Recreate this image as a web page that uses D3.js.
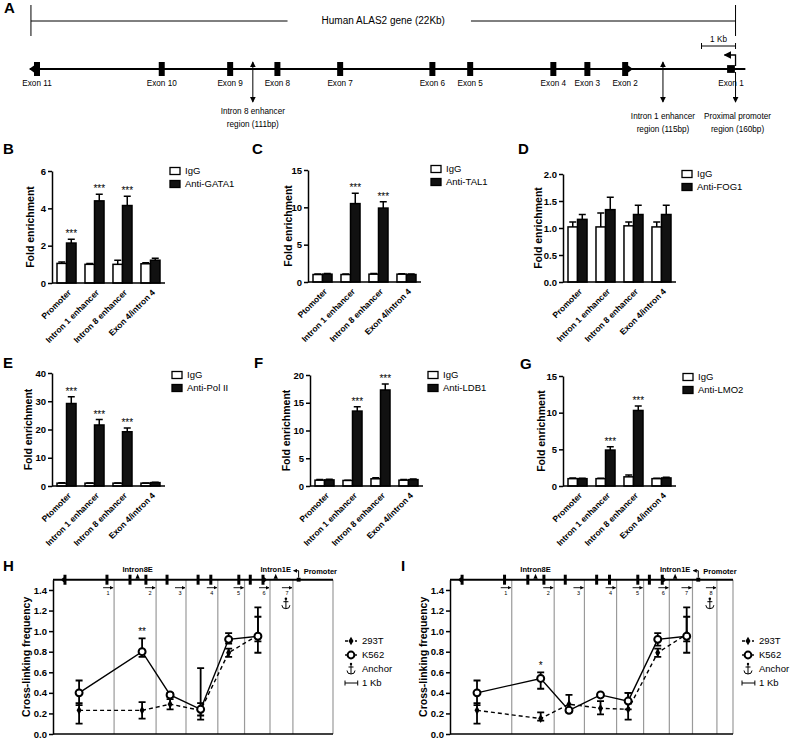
<!DOCTYPE html>
<html>
<head>
<meta charset="utf-8">
<script src="https://cdn.jsdelivr.net/npm/d3@7"></script>
<style>
  body { margin: 0; background: #fff; }
  svg text { font-family: "Liberation Sans", Arial, sans-serif; fill: #000; }
</style>
</head>
<body>
<div id="figure"></div>
<script>
// ---- panel A : gene map (positions in kb) ----
const exonNames = ['Exon 11', 'Exon 10', 'Exon 9', 'Exon 8', 'Exon 7', 'Exon 6', 'Exon 5', 'Exon 4', 'Exon 3', 'Exon 2', 'Exon 1'];
const exonKb = [0.94, 4.24, 6.05, 7.3, 8.96, 11.4, 12.4, 14.6, 15.5, 16.5, 19.3];
const geneSpanKb = [0.78, 19.42];
const enhancerKb = [6.65, 17.5];
const enhancerShort = ['Intron8E', 'Intron1E'];
const enhancerLabels = [['Intron 8 enhancer', 'region (111bp)'], ['Intron 1 enhancer', 'region (115bp)']];
const promoterKb = 19.42;
const promoterLabel = ['Proximal promoter', 'region (160bp)'];

// ---- panels B-G : ChIP fold enrichment ----
const sites = ['Promoter', 'Intron 1 enhancer', 'Intron 8 enhancer', 'Exon 4/intron 4'];
const sitesTypo = ['Ptomoter', 'Intron 1 enhancer', 'Intron 8 enhancer', 'Exon 4/intron 4'];

const gata1IgG = [1.05, 1.0, 1.0, 1.03];
const gata1IgGErr = [0.07, 0.05, 0.22, 0.05];
const gata1Ab = [2.14, 4.4, 4.15, 1.22];
const gata1AbErr = [0.2, 0.35, 0.5, 0.1];
const gata1Sig = ['***', '***', '***', ''];

const tal1IgG = [1.0, 1.0, 1.05, 1.05];
const tal1IgGErr = [0.08, 0.06, 0.08, 0.06];
const tal1Ab = [1.05, 10.5, 9.9, 1.0];
const tal1AbErr = [0.08, 1.4, 0.85, 0.06];
const tal1Sig = ['', '***', '***', ''];

const fog1IgG = [1.02, 1.02, 1.04, 1.02];
const fog1IgGErr = [0.09, 0.26, 0.07, 0.09];
const fog1Ab = [1.16, 1.34, 1.25, 1.25];
const fog1AbErr = [0.09, 0.23, 0.17, 0.17];
const fog1Sig = ['', '', '', ''];

const polIgG = [1.0, 1.0, 1.0, 1.0];
const polIgGErr = [0.15, 0.1, 0.1, 0.1];
const polAb = [29.2, 21.6, 19.2, 1.2];
const polAbErr = [2.4, 1.9, 1.3, 0.15];
const polSig = ['***', '***', '***', ''];

const ldb1IgG = [1.05, 1.0, 1.3, 1.05];
const ldb1IgGErr = [0.1, 0.05, 0.2, 0.1];
const ldb1Ab = [1.1, 13.5, 17.3, 1.15];
const ldb1AbErr = [0.1, 0.8, 1.1, 0.1];
const ldb1Sig = ['', '***', '***', ''];

const lmo2IgG = [1.0, 1.0, 1.25, 1.0];
const lmo2IgGErr = [0.1, 0.05, 0.25, 0.05];
const lmo2Ab = [1.0, 4.9, 10.3, 1.1];
const lmo2AbErr = [0.05, 0.45, 0.6, 0.1];
const lmo2Sig = ['', '***', '***', ''];

// ---- panels H, I : 3C cross-linking frequency ----
const primerEndKb = [4.8, 8.1, 10.45, 12.95, 15.05, 17.05, 18.85, 20.75];

const hPos = [2.05, 7.0, 9.2, 11.6, 13.8, 16.1];
const hK562 = [0.40, 0.80, 0.38, 0.24, 0.92, 0.95];
const hK562Up = [0.12, 0.13, 0.02, 0.40, 0.06, 0.28];
const hK562Dn = [0.12, 0.05, 0.02, 0.06, 0.04, 0.16];
const h293T = [0.23, 0.23, 0.29, 0.23, 0.79, 0.96];
const h293TUp = [0.07, 0.08, 0.05, 0.07, 0.04, 0.18];
const h293TDn = [0.13, 0.08, 0.05, 0.09, 0.04, 0.06];

const iPos = [2.1, 7.05, 9.25, 11.7, 13.85, 16.15, 18.4];
const iK562 = [0.40, 0.54, 0.23, 0.38, 0.32, 0.92, 0.95];
const iK562Up = [0.12, 0.06, 0.02, 0.02, 0.08, 0.06, 0.28];
const iK562Dn = [0.12, 0.10, 0.02, 0.02, 0.08, 0.06, 0.16];
const i293T = [0.23, 0.15, 0.29, 0.25, 0.24, 0.79, 0.97];
const i293TUp = [0.07, 0.06, 0.09, 0.07, 0.16, 0.04, 0.17];
const i293TDn = [0.13, 0.02, 0.05, 0.06, 0.10, 0.04, 0.07];

const svg = d3.select('#figure').append('svg')
    .attr('width', 791)
    .attr('height', 739);

const defs = svg.append('defs');
defs.append('marker').attr('id', 'head')
    .attr('viewBox', '0 0 8 8').attr('refX', 7).attr('refY', 4)
    .attr('markerWidth', 6).attr('markerHeight', 6)
    .attr('orient', 'auto-start-reverse')
    .append('path').attr('d', 'M0,0L8,4L0,8z').attr('fill', '#000');
defs.append('marker').attr('id', 'headSmall')
    .attr('viewBox', '0 0 8 8').attr('refX', 7).attr('refY', 4)
    .attr('markerWidth', 4).attr('markerHeight', 4)
    .attr('orient', 'auto')
    .append('path').attr('d', 'M0,0L8,4L0,8z').attr('fill', '#000');

// panel letters
[['A', 4, 13], ['B', 3, 154], ['C', 252, 154], ['D', 518, 154], ['E', 3, 368], ['F', 254, 368],
 ['G', 520, 369], ['H', 3, 571], ['I', 401, 571]].forEach(([t, x, y]) => {
    svg.append('text').attr('x', x).attr('y', y).text(t)
        .style('font-size', '15px').style('font-weight', 'bold');
});

// exon glyph: plain box, or box with a point for the terminal exons
const exonPath = (i, cx, cy, w, h) => {
    if (i === exonKb.length - 1) {
        const s = w * 1.3;
        return `M${cx - s / 2},${cy - s / 2}h${s}v${s}h${-s}z`;
    }
    let d = `M${cx - w / 2},${cy - h / 2}h${w}v${h}h${-w}z`;
    if (i === 0) d += `M${cx - w / 2},${cy - h / 4}L${cx - w / 2 - w * 0.8},${cy}L${cx - w / 2},${cy + h / 4}z`;
    if (i === exonKb.length - 2) d += `M${cx + w / 2},${cy - h / 4}L${cx + w / 2 + w * 0.8},${cy}L${cx + w / 2},${cy + h / 4}z`;
    return d;
};

// ---------------- panel A ----------------
const drawGeneMap = () => {
    const g = svg.append('g').style('font-size', '8.2px');
    const xa = d3.scaleLinear().domain([exonKb[0], exonKb[exonKb.length - 1]]).range([37, 731]);
    const lineY = 69;

    // 22 kb bracket
    const title = g.append('text').attr('x', (xa(geneSpanKb[0]) + xa(geneSpanKb[1])) / 2).attr('y', 24)
        .attr('text-anchor', 'middle').style('font-size', '10px').text('Human ALAS2 gene (22Kb)');
    const tw = title.node().getComputedTextLength();
    const mid = (xa(geneSpanKb[0]) + xa(geneSpanKb[1])) / 2;
    g.append('path')
        .attr('d', `M${xa(geneSpanKb[0])},5V36M${xa(geneSpanKb[0])},21H${mid - tw / 2 - 34}` +
            `M${mid + tw / 2 + 26},21H${xa(geneSpanKb[1])}M${xa(geneSpanKb[1])},5V36`)
        .attr('stroke', '#000').attr('stroke-width', 1).attr('fill', 'none');

    // 1 Kb scale bar
    const sb0 = xa(promoterKb - 0.9), sb1 = xa(promoterKb);
    g.append('path').attr('d', `M${sb0},46H${sb1}M${sb0},43V49M${sb1},43V49`)
        .attr('stroke', '#000').attr('fill', 'none');
    g.append('text').attr('x', (sb0 + sb1) / 2).attr('y', 42).attr('text-anchor', 'middle').text('1 Kb');

    // gene line and exons
    g.append('line').attr('x1', xa(0.75)).attr('x2', xa(19.68)).attr('y1', lineY).attr('y2', lineY)
        .attr('stroke', '#000').attr('stroke-width', 2);
    g.selectAll('.exon').data(exonKb).join('path').attr('class', 'exon')
        .attr('d', (d, i) => exonPath(i, xa(d), lineY, 6, 14)).attr('fill', '#000');
    g.selectAll('.exonLabel').data(exonNames).join('text').attr('class', 'exonLabel')
        .attr('x', (d, i) => xa(exonKb[i])).attr('y', 86).attr('text-anchor', 'middle').text(d => d);

    // enhancer arrows
    enhancerKb.forEach((kb, i) => {
        g.append('line').attr('x1', xa(kb)).attr('x2', xa(kb)).attr('y1', 62).attr('y2', 102)
            .attr('stroke', '#000').attr('marker-start', 'url(#head)').attr('marker-end', 'url(#head)');
        const ly = i === 0 ? 114 : 119;
        enhancerLabels[i].forEach((t, j) => {
            g.append('text').attr('x', xa(kb)).attr('y', ly + j * 13).attr('text-anchor', 'middle').text(t);
        });
    });

    // promoter arrows
    const px = xa(promoterKb);
    g.append('path').attr('d', `M${px},66V55H${px - 11}`).attr('fill', 'none')
        .attr('stroke', '#000').attr('stroke-width', 1.3).attr('marker-end', 'url(#head)');
    g.append('line').attr('x1', px).attr('x2', px).attr('y1', 72).attr('y2', 102)
        .attr('stroke', '#000').attr('marker-end', 'url(#head)');
    promoterLabel.forEach((t, j) => {
        g.append('text').attr('x', px + 2).attr('y', 119 + j * 13).attr('text-anchor', 'middle').text(t);
    });
};

// ---------------- panels B-G ----------------
const drawBars = (p) => {
    const g = svg.append('g');
    const y = d3.scaleLinear().domain([0, p.max]).range([p.bottom, p.top]);
    const x = d3.scaleBand().domain(p.sites).range([p.x0 + 5, p.x0 + 108]).paddingInner(0.32);
    const bw = x.bandwidth() / 2;

    const series = [
        { vals: p.igg, errs: p.iggErr, fill: '#fff', dx: 0 },
        { vals: p.ab, errs: p.abErr, fill: '#111', dx: bw }
    ];
    series.forEach(s => {
        const bar = g.append('g').selectAll('g').data(p.sites).join('g')
            .attr('transform', d => `translate(${x(d) + s.dx},0)`);
        bar.append('rect')
            .attr('x', 0).attr('width', bw)
            .attr('y', (d, i) => y(s.vals[i]))
            .attr('height', (d, i) => p.bottom - y(s.vals[i]))
            .attr('fill', s.fill).attr('stroke', '#000').attr('stroke-width', 1.5);
        bar.append('path')
            .attr('d', (d, i) => `M${bw / 2},${y(s.vals[i])}V${y(s.vals[i] + s.errs[i])}M${bw / 2 - 3.5},${y(s.vals[i] + s.errs[i])}h7`)
            .attr('stroke', '#000').attr('stroke-width', 1.5);
    });

    g.selectAll('.sig').data(p.sig).join('text').attr('class', 'sig')
        .attr('x', (d, i) => x(p.sites[i]) + bw * 1.5)
        .attr('y', (d, i) => y(p.ab[i] + p.abErr[i]) - 2)
        .attr('text-anchor', 'middle').style('font-size', '10px').text(d => d);

    // axes
    g.append('g').attr('transform', `translate(${p.x0},0)`)
        .call(d3.axisLeft(y)
            .tickValues(d3.range(0, p.max + p.step / 2, p.step))
            .tickFormat(d3.format(p.fmt))
            .tickSize(4).tickSizeOuter(0).tickPadding(2))
        .call(a => a.selectAll('path, line').attr('stroke', '#000').attr('stroke-width', 1.5))
        .call(a => a.selectAll('text').style('font-size', '9.5px').style('font-weight', 'bold'));
    g.append('line').attr('x1', p.x0).attr('x2', p.x0 + 113).attr('y1', p.bottom).attr('y2', p.bottom)
        .attr('stroke', '#000').attr('stroke-width', 1.5);

    g.selectAll('.xl').data(p.sites).join('text').attr('class', 'xl')
        .attr('transform', d => `translate(${x(d) + bw + 3},${p.bottom + 8}) rotate(-45)`)
        .attr('text-anchor', 'end').attr('dy', '0.35em')
        .style('font-size', '8.5px').style('font-weight', 'bold').text(d => d);

    g.append('text')
        .attr('transform', `translate(${p.titleX},${(p.top + p.bottom) / 2}) rotate(-90)`)
        .attr('text-anchor', 'middle').attr('dy', '0.35em')
        .style('font-size', '10.5px').style('font-weight', 'bold').text('Fold enrichment');

    // legend
    [['IgG', '#fff'], [p.abName, '#111']].forEach(([name, fill], i) => {
        const ly = p.legY + i * 13;
        g.append('rect').attr('x', p.legX).attr('y', ly - 3.5).attr('width', 10).attr('height', 7)
            .attr('fill', fill).attr('stroke', '#000').attr('stroke-width', 1.3);
        g.append('text').attr('x', p.legX + 15).attr('y', ly).attr('dy', '0.35em')
            .style('font-size', '9.5px').text(name);
    });
};

// ---------------- panels H, I ----------------
const anchorPath = (cx, ty) =>
    `M${cx},${ty + 2}V${ty + 11}M${cx - 2.5},${ty + 4}H${cx + 2.5}` +
    `M${cx - 4},${ty + 7.5}Q${cx - 4},${ty + 11} ${cx},${ty + 11}Q${cx + 4},${ty + 11} ${cx + 4},${ty + 7.5}`;

const drawLoops = (p) => {
    const g = svg.append('g');
    const x = d3.scaleLinear().domain([0, 22]).range([p.x0, p.x1]);
    const y = d3.scaleLinear().domain([0, 1.5]).range([734, 579.7]);
    const topY = y(1.5);

    // restriction fragment boundaries
    const bounds = primerEndKb.slice(0, p.primers).concat([22]);
    g.selectAll('.vb').data(bounds).join('line').attr('class', 'vb')
        .attr('x1', d => x(d)).attr('x2', d => x(d)).attr('y1', topY).attr('y2', y(0))
        .attr('stroke', '#9a9a9a').attr('stroke-width', 1.2);

    // gene track along the top
    g.append('line').attr('x1', p.x0).attr('x2', p.x1).attr('y1', topY).attr('y2', topY)
        .attr('stroke', '#000').attr('stroke-width', 2);
    g.selectAll('.exon').data(exonKb).join('path').attr('class', 'exon')
        .attr('d', (d, i) => exonPath(i, x(d), topY, 3, 10)).attr('fill', '#000');
    enhancerKb.forEach((kb, i) => {
        const ex = x(kb);
        g.append('path').attr('d', `M${ex - 2.2},${topY - 1}L${ex},${topY - 6}L${ex + 2.2},${topY - 1}z`).attr('fill', '#000');
        g.append('text').attr('x', ex).attr('y', topY - 8).attr('text-anchor', 'middle')
            .style('font-size', '7.5px').style('font-weight', 'bold').text(enhancerShort[i]);
    });
    const pxp = x(exonKb[exonKb.length - 1]);
    g.append('path').attr('d', `M${pxp},${topY - 2}V${topY - 9}H${pxp - 5}`).attr('fill', 'none')
        .attr('stroke', '#000').attr('stroke-width', 1).attr('marker-end', 'url(#headSmall)');
    g.append('text').attr('x', pxp + 5).attr('y', topY - 6)
        .style('font-size', '7.5px').style('font-weight', 'bold').text('Promoter');

    // primers
    primerEndKb.slice(0, p.primers).forEach((kb, i) => {
        g.append('line').attr('x1', x(kb) - 11).attr('x2', x(kb) - 1).attr('y1', topY + 8).attr('y2', topY + 8)
            .attr('stroke', '#000').attr('stroke-width', 0.9).attr('marker-end', 'url(#headSmall)');
        g.append('text').attr('x', x(kb) - 6).attr('y', topY + 15).attr('text-anchor', 'middle')
            .style('font-size', '5.5px').text(i + 1);
    });
    g.append('circle').attr('cx', x(p.anchorKb)).attr('cy', topY + 19).attr('r', 1.3).attr('fill', '#000');
    g.append('path').attr('d', anchorPath(x(p.anchorKb), topY + 18)).attr('fill', 'none').attr('stroke', '#000');

    // axes
    g.append('g').attr('transform', `translate(${p.x0},0)`)
        .call(d3.axisLeft(y).tickValues(d3.range(0, 1.41, 0.2)).tickFormat(d3.format('.1f'))
            .tickSize(4).tickSizeOuter(0).tickPadding(2))
        .call(a => a.selectAll('path, line').attr('stroke', '#000').attr('stroke-width', 1.5))
        .call(a => a.selectAll('text').style('font-size', '9.5px').style('font-weight', 'bold'));
    g.append('line').attr('x1', p.x0).attr('x2', p.x1).attr('y1', y(0)).attr('y2', y(0))
        .attr('stroke', '#000').attr('stroke-width', 1.5);
    g.append('text')
        .attr('transform', `translate(${p.x0 - 27},${(y(0) + topY) / 2}) rotate(-90)`)
        .attr('text-anchor', 'middle').attr('dy', '0.35em')
        .style('font-size', '10.5px').style('font-weight', 'bold').text('Cross-linking frequency');

    const series = [
        { vals: p.t293, up: p.t293Up, dn: p.t293Dn, dash: '4,3', open: false },
        { vals: p.k562, up: p.k562Up, dn: p.k562Dn, dash: null, open: true }
    ];
    const line = d3.line().x((d, i) => x(p.pos[i])).y(d => y(d));
    series.forEach(s => {
        g.append('path').datum(s.vals).attr('d', line).attr('fill', 'none')
            .attr('stroke', '#000').attr('stroke-width', 1.4).attr('stroke-dasharray', s.dash);
    });
    series.forEach(s => {
        g.append('g').selectAll('path').data(s.vals).join('path')
            .attr('d', (d, i) => {
                const cx = x(p.pos[i]), t = y(d + s.up[i]), b = y(d - s.dn[i]);
                return `M${cx},${t}V${b}M${cx - 3.5},${t}h7M${cx - 3.5},${b}h7`;
            })
            .attr('stroke', '#000').attr('stroke-width', 1.8);
    });
    series.forEach(s => {
        const pts = g.append('g').selectAll('path').data(s.vals).join('path')
            .attr('transform', (d, i) => `translate(${x(p.pos[i])},${y(d)})`);
        if (s.open) pts.attr('d', d3.symbol(d3.symbolCircle, 38)).attr('fill', '#fff').attr('stroke', '#000').attr('stroke-width', 2);
        else pts.attr('d', d3.symbol(d3.symbolDiamond, 22)).attr('fill', '#000');
    });

    g.append('text').attr('x', x(p.pos[p.sigIdx]))
        .attr('y', y(p.k562[p.sigIdx] + p.k562Up[p.sigIdx]) - 3)
        .attr('text-anchor', 'middle').style('font-size', '10px').text(p.sig);

    // legend
    const lx = p.legX;
    const rows = [641, 655, 669, 683];
    g.append('line').attr('x1', lx).attr('x2', lx + 12).attr('y1', rows[0]).attr('y2', rows[0])
        .attr('stroke', '#000').attr('stroke-width', 1.4).attr('stroke-dasharray', '3,2');
    g.append('path').attr('transform', `translate(${lx + 6},${rows[0]})`).attr('d', d3.symbol(d3.symbolDiamond, 22)).attr('fill', '#000');
    g.append('line').attr('x1', lx).attr('x2', lx + 12).attr('y1', rows[1]).attr('y2', rows[1])
        .attr('stroke', '#000').attr('stroke-width', 1.4);
    g.append('path').attr('transform', `translate(${lx + 6},${rows[1]})`).attr('d', d3.symbol(d3.symbolCircle, 36))
        .attr('fill', '#fff').attr('stroke', '#000').attr('stroke-width', 2);
    g.append('circle').attr('cx', lx + 6).attr('cy', rows[2] - 5).attr('r', 1.2).attr('fill', '#000');
    g.append('path').attr('d', anchorPath(lx + 6, rows[2] - 6)).attr('fill', 'none').attr('stroke', '#000');
    const kb1 = x(1) - x(0);
    g.append('path').attr('d', `M${lx},${rows[3]}h${kb1}M${lx},${rows[3] - 2.5}v5M${lx + kb1},${rows[3] - 2.5}v5`)
        .attr('stroke', '#000').attr('fill', 'none');
    ['293T', 'K562', 'Anchor', '1 Kb'].forEach((t, i) => {
        g.append('text').attr('x', lx + 17).attr('y', rows[i]).attr('dy', '0.35em')
            .style('font-size', '9.5px').text(t);
    });
};

drawGeneMap();

drawBars({ x0: 52, top: 171, bottom: 283, max: 6, step: 2, fmt: 'd', sites: sites,
    igg: gata1IgG, iggErr: gata1IgGErr, ab: gata1Ab, abErr: gata1AbErr, sig: gata1Sig,
    abName: 'Anti-GATA1', legX: 170, legY: 171, titleX: 30 });
drawBars({ x0: 308, top: 170, bottom: 282, max: 15, step: 5, fmt: 'd', sites: sitesTypo,
    igg: tal1IgG, iggErr: tal1IgGErr, ab: tal1Ab, abErr: tal1AbErr, sig: tal1Sig,
    abName: 'Anti-TAL1', legX: 431, legY: 169, titleX: 288 });
drawBars({ x0: 563, top: 174, bottom: 282, max: 2, step: 0.5, fmt: '.1f', sites: sites,
    igg: fog1IgG, iggErr: fog1IgGErr, ab: fog1Ab, abErr: fog1AbErr, sig: fog1Sig,
    abName: 'Anti-FOG1', legX: 682, legY: 174, titleX: 538 });
drawBars({ x0: 52, top: 373, bottom: 486, max: 40, step: 10, fmt: 'd', sites: sitesTypo,
    igg: polIgG, iggErr: polIgGErr, ab: polAb, abErr: polAbErr, sig: polSig,
    abName: 'Anti-Pol II', legX: 172, legY: 375, titleX: 28 });
drawBars({ x0: 310, top: 375, bottom: 486, max: 20, step: 5, fmt: 'd', sites: sites,
    igg: ldb1IgG, iggErr: ldb1IgGErr, ab: ldb1Ab, abErr: ldb1AbErr, sig: ldb1Sig,
    abName: 'Anti-LDB1', legX: 428, legY: 375, titleX: 286 });
drawBars({ x0: 563, top: 376, bottom: 486, max: 15, step: 5, fmt: 'd', sites: sites,
    igg: lmo2IgG, iggErr: lmo2IgGErr, ab: lmo2Ab, abErr: lmo2AbErr, sig: lmo2Sig,
    abName: 'Anti-LMO2', legX: 683, legY: 377, titleX: 541 });

drawLoops({ x0: 53, x1: 333, primers: 7, anchorKb: 18.3, pos: hPos,
    k562: hK562, k562Up: hK562Up, k562Dn: hK562Dn, t293: h293T, t293Up: h293TUp, t293Dn: h293TDn,
    sigIdx: 1, sig: '**', legX: 345 });
drawLoops({ x0: 450, x1: 733, primers: 8, anchorKb: 20.2, pos: iPos,
    k562: iK562, k562Up: iK562Up, k562Dn: iK562Dn, t293: i293T, t293Up: i293TUp, t293Dn: i293TDn,
    sigIdx: 1, sig: '*', legX: 742 });
</script>
</body>
</html>
